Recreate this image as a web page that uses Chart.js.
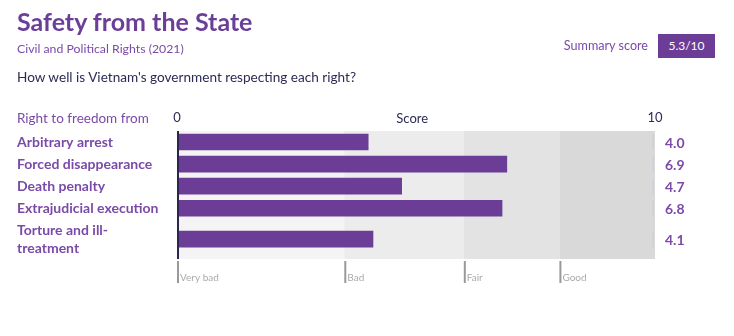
<!DOCTYPE html>
<html>
<head>
<meta charset="utf-8">
<script src="https://cdn.jsdelivr.net/npm/chart.js@4.4.1/dist/chart.umd.min.js"></script>
<style>
  html, body { margin: 0; padding: 0; background: #fff; }
  body { width: 734px; height: 336px; position: relative; overflow: hidden; font-family: Lato, "Noto Sans", sans-serif; }
  #wrap { position: absolute; left: 0; top: 0; width: 734px; height: 336px; }
  .t { position: absolute; white-space: nowrap; }
  #title { left: 17px; top: 6px; font-size: 25px; font-weight: bold; color: #6b3f98; }
  #sub { left: 17px; top: 41px; font-size: 12.3px; color: #7a4aa8; }
  #q { left: 17px; top: 69px; font-size: 13.6px; color: #2b2b55; }
  #sumlbl { right: 86px; top: 38px; font-size: 12.6px; color: #7a4aa8; }
  #sumbox { left: 658px; top: 34px; width: 57px; height: 24px; background: #6b3d96; color: #fff;
            font-size: 12px; text-align: center; line-height: 24px; }
</style>
</head>
<body>
<div id="wrap"><canvas id="chart" width="734" height="336"></canvas></div>
<div class="t" id="title">Safety from the State</div>
<div class="t" id="sub">Civil and Political Rights (2021)</div>
<div class="t" id="q">How well is Vietnam's government respecting each right?</div>
<div class="t" id="sumlbl">Summary score</div>
<div class="t" id="sumbox">5.3/10</div>
<script>
const rights = [['Arbitrary arrest'], ['Forced disappearance'], ['Death penalty'], ['Extrajudicial execution'], ['Torture and ill-', 'treatment']];
const scores = [4.0, 6.9, 4.7, 6.8, 4.1];
const bandNames = ['Very bad', 'Bad', 'Fair', 'Good'];
const bandEdges = [0, 3.5, 6, 8, 10];
const bandColors = ['#f4f4f4', '#ececec', '#e3e3e3', '#d9d9d9'];

const purple = '#6b3d96';
const fontFamily = 'Lato, "Noto Sans", sans-serif';

// row heights: one-line rows are 1 unit, two-line rows a bit taller
const rowHeights = rights.map(l => l.length > 1 ? 1.8 : 1);
const rowCenters = [];
let acc = 0;
rowHeights.forEach(h => { rowCenters.push(acc + h / 2); acc += h; });
const totalRows = acc;

const extras = {
    id: 'extras',
    beforeDatasetsDraw(chart) {
        const { ctx, chartArea, scales } = chart;
        const x = scales.x, y = scales.y;
        ctx.save();
        for (let i = 0; i < bandNames.length; i++) {
            const x0 = x.getPixelForValue(bandEdges[i]);
            const x1 = x.getPixelForValue(bandEdges[i + 1]);
            ctx.fillStyle = bandColors[i];
            ctx.fillRect(x0, chartArea.top, x1 - x0, chartArea.bottom - chartArea.top);
        }
        // faint end marks at max
        ctx.fillStyle = '#d2d2da';
        rowCenters.forEach(c => {
            const yc = y.getPixelForValue(c);
            ctx.fillRect(x.getPixelForValue(10) - 3, yc - 8, 2, 16);
        });
        ctx.restore();
    },
    afterDatasetsDraw(chart) {
        const { ctx, chartArea, scales } = chart;
        const x = scales.x, y = scales.y;
        ctx.save();
        // value labels
        ctx.font = 'bold 14px ' + fontFamily;
        ctx.fillStyle = '#7a4aa8';
        ctx.textBaseline = 'middle';
        ctx.textAlign = 'left';
        scores.forEach((v, i) => {
            ctx.fillText(v.toFixed(1), chartArea.right + 10, y.getPixelForValue(rowCenters[i]) + 1);
        });
        // axis line at zero
        ctx.strokeStyle = '#2d2454';
        ctx.lineWidth = 2;
        ctx.beginPath();
        ctx.moveTo(chartArea.left + 1, chartArea.top);
        ctx.lineTo(chartArea.left + 1, chartArea.bottom);
        ctx.stroke();
        // band markers below
        ctx.strokeStyle = '#999';
        ctx.fillStyle = '#aaa';
        ctx.font = '10px ' + fontFamily;
        for (let i = 0; i < bandNames.length; i++) {
            const bx = x.getPixelForValue(bandEdges[i]) + 1;
            ctx.beginPath();
            ctx.moveTo(bx, chartArea.bottom + 2);
            ctx.lineTo(bx, chartArea.bottom + 24);
            ctx.stroke();
            ctx.fillText(bandNames[i], bx + 2, chartArea.bottom + 19);
        }
        // header row
        ctx.font = '13.5px ' + fontFamily;
        ctx.fillStyle = '#7a4aa8';
        ctx.fillText('Right to freedom from', 17, 119);
        ctx.fillStyle = '#2b2b55';
        ctx.font = '13px ' + fontFamily;
        ctx.textAlign = 'center';
        ctx.fillText('Score', x.getPixelForValue(4.92), 119);
        ctx.restore();
    }
};

new Chart(document.getElementById('chart'), {
    type: 'bar',
    data: {
        datasets: [{
            data: scores.map((v, i) => ({ x: v, y: rowCenters[i] })),
            backgroundColor: purple,
            barThickness: 16
        }]
    },
    options: {
        indexAxis: 'y',
        responsive: false,
        animation: false,
        layout: { padding: { left: 17, right: 79, top: 100, bottom: 77 } },
        plugins: { legend: { display: false }, tooltip: { enabled: false } },
        scales: {
            x: {
                type: 'linear',
                position: 'top',
                min: 0,
                max: 10,
                grid: { display: false, drawTicks: false },
                border: { display: false },
                ticks: { padding: 5, color: '#2b2b55', font: { size: 13, family: fontFamily } },
                afterBuildTicks: s => { s.ticks = [{ value: 0 }, { value: 10 }]; },
                afterFit: s => { s.height = 31; }
            },
            y: {
                type: 'linear',
                reverse: true,
                offset: false,
                min: 0,
                max: totalRows,
                grid: { display: false, drawTicks: false, offset: false },
                border: { display: false },
                ticks: {
                    autoSkip: false,
                    crossAlign: 'far',
                    color: '#7a4aa8',
                    font: { size: 14, weight: 'bold', family: fontFamily, lineHeight: 1.3 },
                    callback: (v, i) => rights[i].length > 1 ? rights[i] : rights[i][0]
                },
                afterBuildTicks: s => { s.ticks = rowCenters.map(c => ({ value: c })); },
                afterFit: s => { s.width = 160; }
            }
        }
    },
    plugins: [extras]
});
</script>
</body>
</html>
